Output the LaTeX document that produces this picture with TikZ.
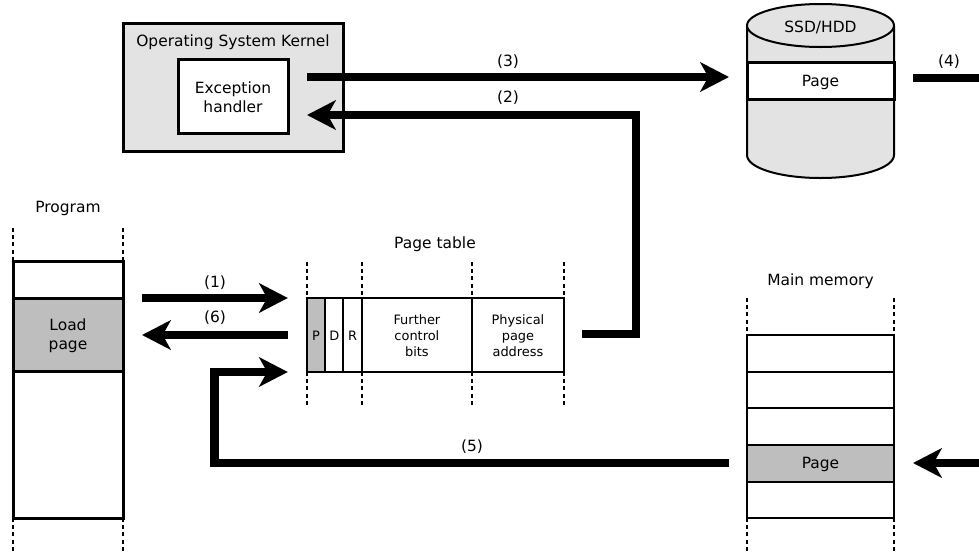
\documentclass[tikz,border=0pt]{standalone}
\usepackage{fontspec}
\setmainfont{DejaVu Sans}
\usetikzlibrary{arrows.meta,shapes.geometric}
\definecolor{pagegrey}{HTML}{BEBEBE}
\definecolor{diskgrey}{HTML}{E3E3E3}
\tikzset{
  bx/.style 2 args={draw=black,inner sep=0pt,outer sep=0pt,minimum width=#1*0.75pt,minimum height=#2*0.75pt},
  thin box/.style={line width=1.5pt},
  thick box/.style={line width=2.25pt},
  cellgrey/.style={fill=pagegrey},
  guide/.style={line width=1.5pt,dash pattern=on 3pt off 2.4pt},
  flow/.style={line width=6.6pt,-{Stealth[length=21.5pt,width=22pt,inset=6pt]}},
  flowline/.style={line width=6.6pt},
  lab/.style={font=\fontsize{11.6pt}{14.4pt}\selectfont,inner sep=0pt,align=center,yshift=-1.2pt},
  tiny/.style={font=\fontsize{9.7pt}{12pt}\selectfont,inner sep=0pt,align=center,yshift=-0.4pt},
}
\begin{document}
\begin{tikzpicture}[x=0.75pt,y=-0.75pt]
\useasboundingbox (0,0) rectangle (979,554);
% Kernel
\node[bx={220}{128},thick box,fill=diskgrey] (kernel) at (233,87) {};
\node[lab] (kerneltext) at (233,41) {Operating System Kernel};
\node[bx={110}{74},thick box,fill=white] (handler) at (233,96) {};
\node[lab] (handlertext) at (handler) {Exception\\handler};
% Disk
\path[fill=diskgrey,draw=black,line width=1.5pt] (747,26) -- (747,155) .. controls (747,168) and (780,178) .. (820.5,178) .. controls (861,178) and (894,168) .. (894,155) -- (894,26);
\node[bx={147}{43},thin box,fill=diskgrey,ellipse] (disktop) at (820.5,25.5) {};
\node[lab] (disklabel) at (820.5,26) {SSD/HDD};
\node[bx={147}{37},thick box,fill=white] (diskpage) at (820.5,80.5) {};
\node[lab] (diskpagetext) at (820.5,81) {Page};
% Program
\node[lab] (progtitle) at (68,207) {Program};
\node[bx={110}{37},thick box,fill=white] (p1) at (68,279.5) {};
\node[bx={110}{73},thick box,cellgrey] (p2) at (68,334.5) {};
\node[lab] (p2text) at (p2) {Load\\page};
\node[bx={110}{147},thick box,fill=white] (p3) at (68,444.5) {};
\foreach \x in {13,123}{
  \draw[guide] (\x,228) -- (\x,261);
  \draw[guide] (\x,518) -- (\x,553);
}
% Page table
\node[lab] (pttitle) at (435,243) {Page table};
\node[bx={18.3}{73.5},thin box,cellgrey] (cp) at (316,335) {};
\node[bx={18.3}{73.5},thin box] (cd) at (334.3,335) {};
\node[bx={18.4}{73.5},thin box] (cr) at (352.6,335) {};
\node[bx={110.3}{73.5},thin box] (cf) at (416.9,335) {};
\node[bx={92}{73.5},thin box] (ca) at (518,335) {};
\node[tiny] (cptext) at (cp) {P};
\node[tiny] (cdtext) at (cd) {D};
\node[tiny] (crtext) at (cr) {R};
\node[tiny] (cftext) at (cf) {Further\\control\\bits};
\node[tiny] (catext) at (ca) {Physical\\page\\address};
\foreach \x in {307,361.8,472,564}{
  \draw[guide] (\x,262) -- (\x,298);
  \draw[guide] (\x,372) -- (\x,405);
}
% Main memory
\node[lab] (mmtitle) at (820.5,280) {Main memory};
\node[bx={147}{36.7},thin box] (m1) at (820.5,353.35) {};
\node[bx={147}{36.7},thin box] (m2) at (820.5,390) {};
\node[bx={147}{36.7},thin box] (m3) at (820.5,426.65) {};
\node[bx={147}{36.7},thin box,cellgrey] (m4) at (820.5,463.35) {};
\node[bx={147}{36.7},thin box] (m5) at (820.5,500) {};
\node[lab] (m4text) at (m4) {Page};
\foreach \x in {747,894}{
  \draw[guide] (\x,298) -- (\x,335);
  \draw[guide] (\x,518) -- (\x,553);
}
% Free ends
\coordinate (out4) at (979,78);
\coordinate (in4) at (979,463);
% Connectors
\draw[flow] ([shift={(19,-19)}]handler.east) -- ([shift={(-18,-3.5)}]diskpage.west);
\draw[flow] ([shift={(18,-1)}]ca.east) -| ([shift={(348,19)}]handler.east) -- ([shift={(19,19)}]handler.east);
\draw[flowline] ([shift={(19,-2.5)}]diskpage.east) -- (out4);
\draw[flow] (in4) -- ([shift={(19,-0.35)}]m4.east);
\draw[flow] ([shift={(-18,-0.35)}]m4.west) -| ([shift={(-92,37)}]cp.west) -- ([shift={(-19,37)}]cp.west);
\draw[flow] ([shift={(-165,-37)}]cp.west) -- ([shift={(-19,-37)}]cp.west);
\draw[flow] ([shift={(-19,0)}]cp.west) -- ([shift={(19,0.5)}]p2.east);
% Arrow labels
\node[lab] (l3) at (508,60) {(3)};
\node[lab] (l2) at (508,96) {(2)};
\node[lab] (l4) at (949,60) {(4)};
\node[lab] (l1) at (215,281) {(1)};
\node[lab] (l6) at (215,316) {(6)};
\node[lab] (l5) at (472,445) {(5)};
\end{tikzpicture}
\end{document}
